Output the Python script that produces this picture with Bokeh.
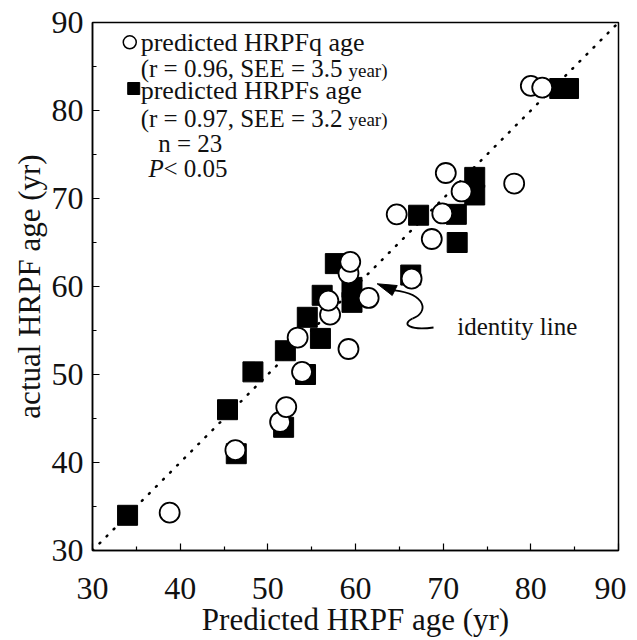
from bokeh.plotting import figure
from bokeh.models import FixedTicker
from bokeh.embed import file_html
from bokeh.resources import INLINE
from bokeh.core.properties import value

# predicted HRPFq age (open circles): predicted vs actual
q_pred = [38.8, 46.3, 51.4, 52.1, 53.9, 59.2, 53.4, 57.1, 56.9, 61.5, 59.2,
          59.4, 66.4, 64.7, 68.7, 69.9, 72.1, 70.3, 78.1, 80.0, 81.3]
q_act = [34.3, 41.4, 44.6, 46.3, 50.3, 52.9, 54.2, 56.8, 58.4, 58.7, 61.5,
         62.8, 60.9, 68.2, 65.4, 68.3, 70.8, 72.9, 71.7, 82.8, 82.6]

# predicted HRPFs age (filled squares)
s_pred = [34.0, 46.4, 45.4, 51.8, 48.3, 54.3, 52.0, 56.0, 54.5, 56.2, 57.7,
          59.6, 59.6, 66.3, 67.2, 71.5, 71.6, 73.6, 73.6, 83.3, 84.3]
s_act = [34.0, 41.0, 46.0, 44.0, 50.3, 50.0, 52.7, 54.1, 56.5, 59.0, 62.6,
         58.2, 59.9, 61.3, 68.1, 68.2, 65.0, 70.4, 72.4, 82.5, 82.5]

identity = [30, 90]
ticks = [30, 40, 50, 60, 70, 80, 90]
minor = [35, 45, 55, 65, 75, 85]

# callout geometry (arrow head and squiggle), in axis units
head_x = [62.47, 64.76, 64.19]
head_y = [60.31, 60.11, 58.98]
curve_x0 = [64.45, 66.50]
curve_y0 = [59.55, 56.36]
curve_x1 = [66.50, 68.90]
curve_y1 = [56.36, 55.34]
curve_cx0 = [68.10, 65.13]
curve_cy0 = [59.10, 55.68]
curve_cx1 = [68.40, 66.27]
curve_cy1 = [57.05, 55.00]

FONT = "Liberation Serif"

p = figure(frame_width=526, frame_height=528,
           x_range=(30, 90), y_range=(30, 90),
           output_backend="svg", toolbar_location=None,
           min_border_left=92, min_border_top=22, min_border_right=8,
           min_border_bottom=10)
p.grid.visible = False
p.outline_line_color = "black"
p.outline_line_width = 1.5
p.background_fill_color = "white"
p.border_fill_color = "white"

p.axis.major_label_text_font = FONT
p.axis.axis_label_text_font = FONT
for ax in (p.xaxis[0], p.yaxis[0]):
    ax.ticker = FixedTicker(ticks=ticks, minor_ticks=minor)
    ax.major_tick_in = 7
    ax.major_tick_out = 0
    ax.minor_tick_in = 4
    ax.minor_tick_out = 0
    ax.axis_line_color = "black"
    ax.axis_line_width = 1.5
    ax.major_tick_line_width = 1.2
    ax.minor_tick_line_width = 1.2
    ax.major_label_text_font = FONT
    ax.major_label_text_font_size = "32px"
    ax.major_label_text_font_style = "normal"
    ax.major_label_text_color = "#111111"
    ax.axis_label_text_font = FONT
    ax.axis_label_text_font_size = "31px"
    ax.axis_label_text_font_style = "normal"
    ax.axis_label_text_color = "#111111"

p.xaxis.axis_label = "Predicted HRPF age (yr)"
p.yaxis.axis_label = "actual HRPF age (yr)"
p.xaxis.major_label_standoff = 27
p.xaxis.axis_label_standoff = 0
p.yaxis.major_label_standoff = 9
p.yaxis.axis_label_standoff = 2

# identity line (dotted)
p.line(identity, identity, line_color="black", line_width=2.5,
       line_dash="1 9", line_cap="round")

# data
p.scatter(s_pred, s_act, marker="square", size=20, fill_color="black",
          line_color="black", line_width=1)
p.scatter(q_pred, q_act, marker="circle", size=20, fill_color="white",
          line_color="black", line_width=1.8)

# legend-like annotations
p.scatter([34.25], [87.75], marker="circle", size=13, fill_color="white",
          line_color="black", line_width=1.5)
p.scatter([34.7], [82.5], marker="square", size=12, fill_color="black",
          line_color="black")

txt = dict(text_font=value(FONT), text_baseline="middle", text_align="left",
           text_color="#111111")
p.text([35.5], [87.75], text=["predicted HRPFq age"], text_font_size="26px", **txt)
p.text([35.5], [84.75], text=["(r = 0.96, SEE = 3.5"], text_font_size="25px", **txt)
p.text([59.2], [84.6], text=["year)"], text_font_size="19px", **txt)
p.text([35.5], [82.3], text=["predicted HRPFs age"], text_font_size="26px", **txt)
p.text([35.5], [79.1], text=["(r = 0.97, SEE = 3.2"], text_font_size="25px", **txt)
p.text([59.2], [78.95], text=["year)"], text_font_size="19px", **txt)
p.text([37.5], [76.2], text=["n = 23"], text_font_size="25px", **txt)
p.text([36.4], [73.4], text=["P"], text_font_size="25px", text_font_style="italic", **txt)
p.text([38.1], [73.4], text=["< 0.05"], text_font_size="25px", **txt)

# identity line callout
p.bezier(x0=curve_x0, y0=curve_y0, x1=curve_x1, y1=curve_y1,
         cx0=curve_cx0, cy0=curve_cy0, cx1=curve_cx1, cy1=curve_cy1,
         line_color="black", line_width=1.8)
p.patch(head_x, head_y, fill_color="black", line_color="black", line_width=1)
p.text([71.6], [55.4], text=["identity line"], text_font_size="25px", **txt)

open("out.html", "w").write(file_html(p, INLINE))
